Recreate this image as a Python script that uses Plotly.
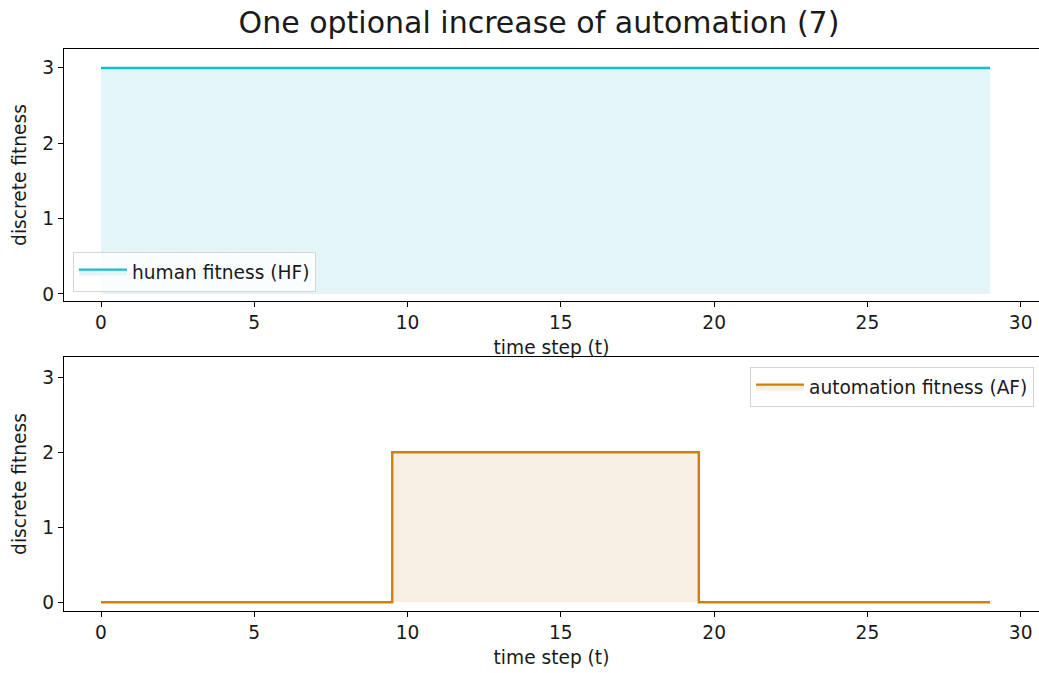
import plotly.graph_objects as go
from plotly.subplots import make_subplots

# time steps and discrete fitness levels of both agents
time_steps = [0, 1, 2, 3, 4, 5, 6, 7, 8, 9, 10, 11, 12, 13, 14,
              15, 16, 17, 18, 19, 20, 21, 22, 23, 24, 25, 26, 27, 28, 29]
human_fitness = [3, 3, 3, 3, 3, 3, 3, 3, 3, 3, 3, 3, 3, 3, 3,
                 3, 3, 3, 3, 3, 3, 3, 3, 3, 3, 3, 3, 3, 3, 3]
automation_fitness = [0, 0, 0, 0, 0, 0, 0, 0, 0, 0, 2, 2, 2, 2, 2,
                      2, 2, 2, 2, 2, 0, 0, 0, 0, 0, 0, 0, 0, 0, 0]
x_ticks = [0, 5, 10, 15, 20, 25, 30]
y_ticks = [0, 1, 2, 3]

FONT = "DejaVu Sans"
FS = 18.6
TEXT = "#1a1a1a"
HF_COLOR = "#17becf"
HF_FILL = "#e3f5f8"
AF_COLOR = "#c9830f"
AF_FILL = "#f8efe3"

W, H = 1039, 673
ML, MR, MT, MB = 64, 0, 49, 62
plot_h = H - MT - MB

fig = make_subplots(rows=2, cols=1, shared_xaxes=False)

fig.add_trace(go.Scatter(
    x=time_steps, y=human_fitness, mode="lines",
    line=dict(color=HF_COLOR, width=2.4, shape="hvh"),
    fill="tozeroy", fillcolor=HF_FILL,
    name="human fitness (HF)", legend="legend"), row=1, col=1)

fig.add_trace(go.Scatter(
    x=time_steps, y=automation_fitness, mode="lines",
    line=dict(color=AF_COLOR, width=2.4, shape="hvh"),
    fill="tozeroy", fillcolor=AF_FILL,
    name="automation fitness (AF)", legend="legend2"), row=2, col=1)

top_dom = [(H - MB - 301) / plot_h, 1.0]
bot_dom = [0.0, (H - MB - 357) / plot_h]

axis_common = dict(
    showgrid=False, zeroline=False, showline=True, linecolor="black",
    linewidth=1.2, ticks="outside", ticklen=5, tickwidth=1.2, tickcolor="black",
    tickfont=dict(family=FONT, size=FS, color=TEXT),
)

for ax in ("xaxis", "xaxis2"):
    fig.layout[ax].update(
        **axis_common, range=[-1.207, 30.597], tickvals=x_ticks,
        mirror=True,
        title=dict(text="time step (t)", font=dict(family=FONT, size=FS, color=TEXT),
                   standoff=8),
    )

fig.layout.yaxis.update(**axis_common, range=[-0.093, 3.252], tickvals=y_ticks,
                        domain=top_dom)
fig.layout.yaxis2.update(**axis_common, range=[-0.116, 3.27], tickvals=y_ticks,
                         domain=bot_dom)
for ax in ("yaxis", "yaxis2"):
    fig.layout[ax].title = dict(text="discrete fitness",
                                font=dict(family=FONT, size=FS, color=TEXT),
                                standoff=10)

legend_style = dict(
    bgcolor="rgba(255,255,255,0.8)", bordercolor="#d6d6d6", borderwidth=1,
    font=dict(family=FONT, size=FS, color=TEXT), itemwidth=48,
)
fig.update_layout(
    width=W, height=H,
    margin=dict(l=ML, r=MR, t=MT, b=MB),
    paper_bgcolor="white", plot_bgcolor="white",
    showlegend=True,
    title=dict(text="One optional increase of automation (7)",
               font=dict(family=FONT, size=30, color=TEXT),
               x=539 / W, xanchor="center", y=1 - 22 / H, yanchor="middle"),
    legend=dict(**legend_style, x=(73 - ML) / (W - ML - MR),
                y=(H - MB - 292) / plot_h, xanchor="left", yanchor="bottom"),
    legend2=dict(**legend_style, x=(1034 - ML) / (W - ML - MR),
                 y=(H - MB - 367) / plot_h, xanchor="right", yanchor="top"),
)

fig.write_html("out.html")
